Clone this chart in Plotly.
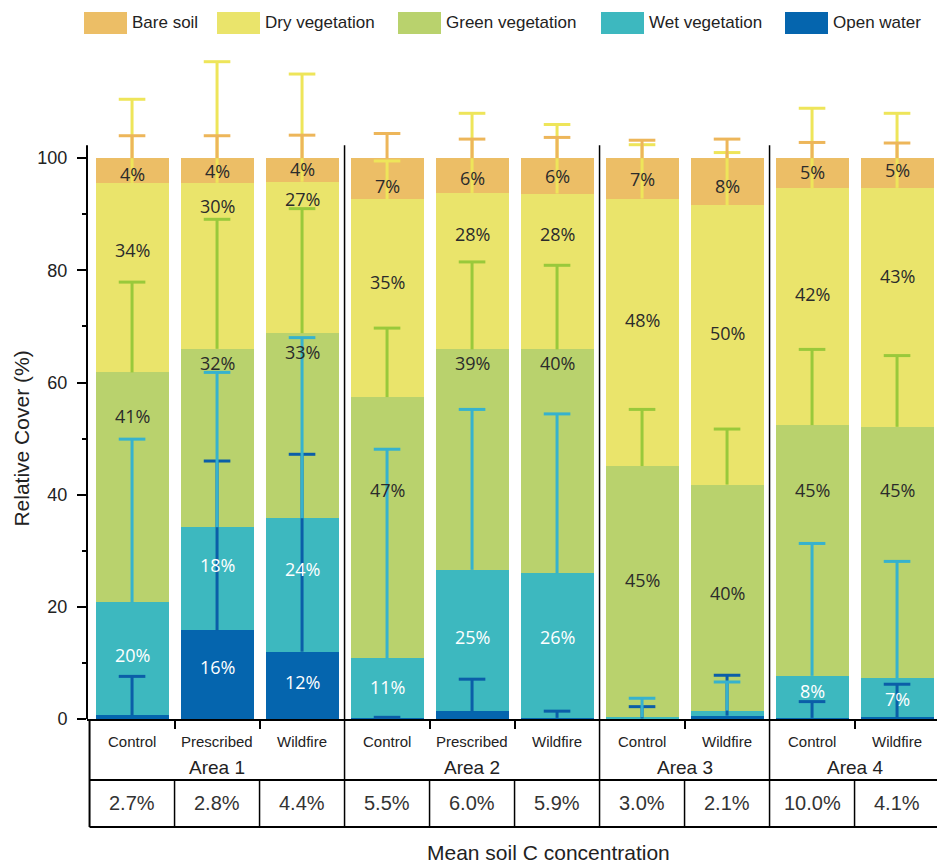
import plotly.graph_objects as go

# ---------------- data ----------------
categories = ["Control", "Prescribed", "Wildfire", "Control", "Prescribed", "Wildfire",
              "Control", "Wildfire", "Control", "Wildfire"]
areas = ["Area 1", "Area 2", "Area 3", "Area 4"]
area_sizes = [3, 3, 2, 2]
soil_c = ["2.7%", "2.8%", "4.4%", "5.5%", "6.0%", "5.9%", "3.0%", "2.1%", "10.0%", "4.1%"]

open_water = [0.7, 15.8, 12.0, 0.2, 1.4, 0.2, 0.1, 0.6, 0.2, 0.3]
wet_veg = [20.1, 18.4, 23.8, 10.6, 25.2, 25.8, 0.2, 0.9, 7.5, 7.0]
green_veg = [41.0, 31.8, 33.0, 46.6, 39.3, 39.9, 44.8, 40.3, 44.7, 44.8]
dry_veg = [33.8, 29.6, 27.0, 35.3, 27.9, 27.8, 47.7, 49.8, 42.2, 42.6]
bare_soil = [4.4, 4.4, 4.2, 7.3, 6.2, 6.3, 7.2, 8.4, 5.4, 5.3]

err_open_water = [6.9, 30.2, 35.2, 0.1, 5.7, 1.2, 2.1, 7.2, 2.9, 5.9]
err_wet_veg = [29.1, 27.6, 32.2, 37.3, 28.6, 28.4, 3.4, 5.1, 23.6, 20.8]
err_green_veg = [16.1, 23.1, 22.2, 12.3, 15.6, 15.0, 10.1, 9.9, 13.5, 12.7]
err_dry_veg = [14.9, 21.6, 19.2, 6.8, 14.2, 12.3, 9.6, 9.4, 14.3, 13.3]
err_bare_soil = [4.0, 4.0, 4.1, 4.4, 3.4, 3.7, 3.2, 3.4, 2.8, 2.7]

series_names = ["Open water", "Wet vegetation", "Green vegetation", "Dry vegetation", "Bare soil"]
series_values = [open_water, wet_veg, green_veg, dry_veg, bare_soil]
series_errors = [err_open_water, err_wet_veg, err_green_veg, err_dry_veg, err_bare_soil]

# ---------------- styling / layout constants ----------------
bar_colors = ["#0565AE", "#3DB8BF", "#B9D26D", "#EAE46B", "#ECBE66"]
err_colors = ["#0B5EA8", "#36B2CE", "#99C93B", "#EEE55A", "#EDB65A"]
label_colors = ["white", "white", "#2b2b2b", "#2b2b2b", "#2b2b2b"]
# vertical placement of the in-bar percentage labels (None = no label)
label_y = [
    [None, 9.2, 6.6, None, None, None, None, None, None, None],
    [11.5, 27.5, 26.8, 5.7, 14.6, 14.6, None, None, 5.0, 3.6],
    [54.0, 63.4, 65.4, 40.9, 63.4, 63.4, 24.7, 22.5, 40.9, 40.9],
    [83.7, 91.5, 92.8, 78.0, 86.4, 86.4, 71.2, 68.9, 75.7, 79.0],
    [97.1, 97.7, 98.0, 95.0, 96.4, 96.8, 96.2, 95.0, 97.5, 97.9],
]

W, H = 937, 867
ML, MR, MT, MB = 87, 0, 46, 148
PW, PH = W - ML - MR, H - MT - MB
Y_MAX = 120
AXIS_TOP = 102.3

def py(p):  # pixel row -> paper y
    return (H - MB - p) / PH

def px(p):  # pixel col -> paper x
    return (p - ML) / PW

ARIAL = "Arial, Liberation Sans, sans-serif"
LABEL_FONT = "Open Sans, Segoe UI, sans-serif"

xs = list(range(len(categories)))
fig = go.Figure()

# stacked bars
for name, vals, col in zip(series_names, series_values, bar_colors):
    fig.add_trace(go.Bar(x=xs, y=vals, name=name, marker=dict(color=col, line=dict(width=0)),
                         width=0.86, hoverinfo="skip"))

# one-sided error bars on the cumulative tops
cum = [0.0] * len(xs)
tops = []
for vals in series_values:
    cum = [c + v for c, v in zip(cum, vals)]
    tops.append(cum[:])
for top, err, col in zip(tops, series_errors, err_colors):
    caps = [t + e for t, e in zip(top, err)]
    fig.add_trace(go.Scatter(
        x=xs, y=caps, mode="markers", hoverinfo="skip", showlegend=False,
        marker=dict(symbol="line-ew", size=19, line=dict(width=3, color=col), color=col),
        error_y=dict(type="data", symmetric=False, array=[0] * len(xs), arrayminus=err,
                     width=0, thickness=3, color=col)))

annotations = []

def ann(**kw):
    kw.setdefault("showarrow", False)
    kw.setdefault("xanchor", "center")
    kw.setdefault("yanchor", "middle")
    annotations.append(kw)

# in-bar percentage labels
for vals, ly, lc in zip(series_values, label_y, label_colors):
    for i, (v, yy) in enumerate(zip(vals, ly)):
        if yy is None:
            continue
        ann(x=i, y=yy, xref="x", yref="y", text=f"{round(v)}%",
            font=dict(family=LABEL_FONT, size=18, color=lc))

# y-axis title
ann(x=px(22), y=50, xref="paper", yref="y", text="Relative Cover (%)", textangle=-90,
    font=dict(family=ARIAL, size=21, color="#222"))

# table: categories, areas, soil C
for i, c in enumerate(categories):
    ann(x=i, y=py(741), xref="x", yref="paper", text=c, font=dict(family=ARIAL, size=15, color="#222"))
    ann(x=i, y=py(803), xref="x", yref="paper", text=soil_c[i], font=dict(family=ARIAL, size=20, color="#333"))
start = 0
for a, n in zip(areas, area_sizes):
    ann(x=start + (n - 1) / 2, y=py(767), xref="x", yref="paper", text=a,
        font=dict(family=ARIAL, size=19, color="#222"))
    start += n
ann(x=px(548), y=py(852), xref="paper", yref="paper", text="Mean soil C concentration",
    font=dict(family=ARIAL, size=21, color="#222"))

shapes = []
# y axis line
shapes.append(dict(type="line", xref="paper", yref="y", x0=0, x1=0, y0=0, y1=AXIS_TOP,
                   line=dict(color="black", width=2)))
# group separators
bounds = []
start = 0
for n in area_sizes[:-1]:
    start += n
    bounds.append(start - 0.5)
for b in bounds:
    shapes.append(dict(type="line", xref="x", yref="paper", x0=b, x1=b, y0=py(827), y1=AXIS_TOP / Y_MAX,
                       line=dict(color="black", width=1.5)))
# table borders
shapes.append(dict(type="line", xref="x", yref="paper", x0=-0.5, x1=-0.5, y0=py(827), y1=py(720),
                   line=dict(color="black", width=2)))
for yy in (780, 827):
    shapes.append(dict(type="line", xref="x", yref="paper", x0=-0.5, x1=9.47, y0=py(yy), y1=py(yy),
                       line=dict(color="black", width=2)))
inner = [i + 0.5 for i in range(len(xs) - 1) if (i + 0.5) not in bounds]
for b in inner:
    shapes.append(dict(type="line", xref="x", yref="paper", x0=b, x1=b, y0=py(827), y1=py(780),
                       line=dict(color="black", width=1.5)))

# manual legend
legend_order = [4, 3, 2, 1, 0]
legend_px = [84, 217, 398, 601, 785]
for k, lx in zip(legend_order, legend_px):
    shapes.append(dict(type="rect", xref="paper", yref="paper", x0=px(lx), x1=px(lx + 43),
                       y0=py(34), y1=py(12), fillcolor=bar_colors[k], line=dict(width=0)))
    ann(x=px(lx + 46), y=py(23), xref="paper", yref="paper", xanchor="left",
        text=series_names[k], font=dict(family=ARIAL, size=17, color="#222"))

fig.update_layout(
    width=W, height=H, margin=dict(l=ML, r=MR, t=MT, b=MB),
    plot_bgcolor="white", paper_bgcolor="white", barmode="stack", showlegend=False,
    xaxis=dict(range=[-0.53, 9.47], showline=True, linecolor="black", linewidth=2, showgrid=False,
               zeroline=False, ticks="outside", tickvals=inner, ticktext=[""] * len(inner),
               ticklen=8, tickwidth=1.5, tickcolor="black", fixedrange=True),
    yaxis=dict(range=[0, Y_MAX], showline=False, showgrid=False, zeroline=False, ticks="outside",
               tickvals=[0, 20, 40, 60, 80, 100], ticklen=9, tickwidth=2, tickcolor="black",
               ticklabelstandoff=6, fixedrange=True,
               tickfont=dict(family=ARIAL, size=18, color="#222"),
               minor=dict(tickvals=[10, 30, 50, 70, 90], ticklen=4, tickwidth=2, tickcolor="black",
                          ticks="outside", showgrid=False)),
    annotations=annotations, shapes=shapes,
)

fig.write_html("out.html", config={"displayModeBar": False},
               post_script="document.body.style.margin='0';document.body.style.overflow='hidden';")
